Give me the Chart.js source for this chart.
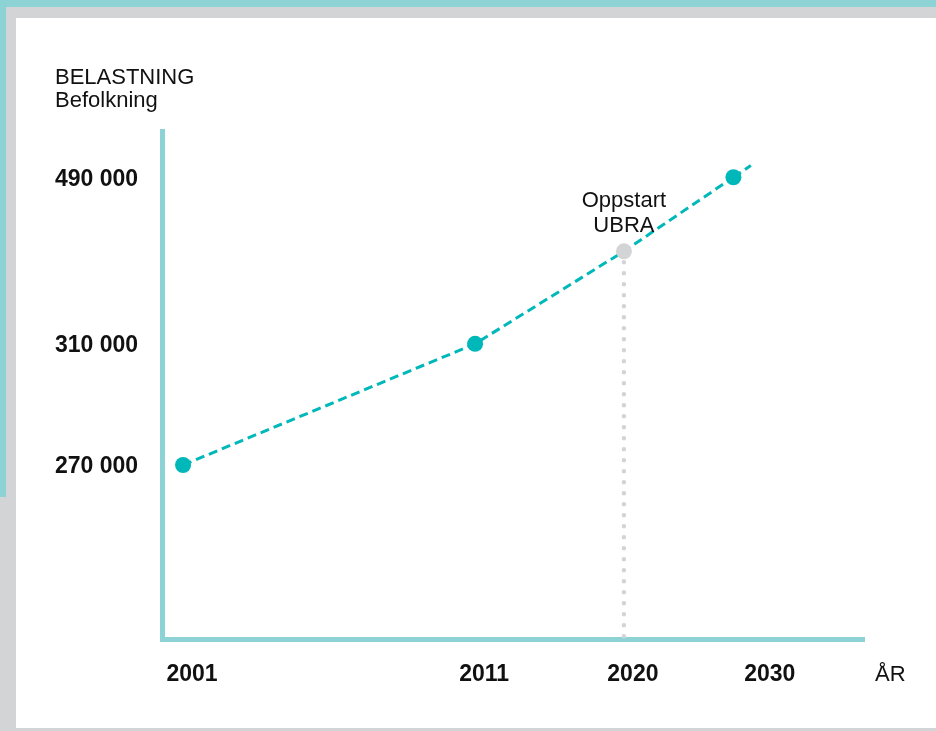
<!DOCTYPE html>
<html>
<head>
<meta charset="utf-8">
<script src="https://cdn.jsdelivr.net/npm/chart.js@4/dist/chart.umd.min.js"></script>
<style>
    html, body { margin: 0; padding: 0; }
    body { width: 936px; height: 731px; position: relative; overflow: hidden; background: #d3d4d6; }
    .band-top { position: absolute; left: 0; top: 0; width: 936px; height: 7px; background: #8dd3d5; }
    .band-left { position: absolute; left: 0; top: 0; width: 6px; height: 497px; background: #8dd3d5; }
    .card { position: absolute; left: 16px; top: 18px; width: 920px; height: 710px; background: #fff; }
    #wrap { position: absolute; left: 0; top: 0; width: 936px; height: 731px; }
</style>
</head>
<body>
<div class="band-top"></div>
<div class="band-left"></div>
<div class="card"></div>
<div id="wrap"><canvas id="chart"></canvas></div>
<script>
const years = [2001, 2011, 2020, 2028];
const population = [270000, 310000, 410000, 490000];
const yearTicks = [2001, 2011, 2020, 2030];
const popTicks = [270000, 310000, 490000];
const startYear = 2020; // Oppstart UBRA

// the axes in the drawing are not evenly spaced, so each one gets a bent mapping
// [value, share of the axis length]
const xWarp = [[2000, 0], [2001, 0.03], [2011, 0.446], [2020, 0.658], [2030, 0.853], [2038, 1]];
const yWarp = [[200000, 0], [270000, 0.3425], [310000, 0.581], [490000, 0.909], [540000, 1]];

const fontFamily = "'Liberation Sans', Arial, sans-serif";
const lineColor = '#00b8ba';
const axisColor = '#8dd3d5';
const greyDot = '#d3d4d6';

Chart.defaults.font.family = fontFamily;
Chart.defaults.color = '#111';

class WarpScale extends Chart.LinearScale {
    stops() {
        return this.axis === 'x' ? xWarp : yWarp;
    }
    getPixelForValue(value) {
        if (value === null || value === undefined) return NaN;
        const s = this.stops();
        let i = 1;
        while (i < s.length - 1 && value > s[i][0]) i++;
        const [v0, f0] = s[i - 1], [v1, f1] = s[i];
        return this.getPixelForDecimal(f0 + (value - v0) / (v1 - v0) * (f1 - f0));
    }
    getValueForPixel(pixel) {
        const d = this.getDecimalForPixel(pixel);
        const s = this.stops();
        let i = 1;
        while (i < s.length - 1 && d > s[i][1]) i++;
        const [v0, f0] = s[i - 1], [v1, f1] = s[i];
        return v0 + (d - f0) / (f1 - f0) * (v1 - v0);
    }
}
WarpScale.id = 'warp';
WarpScale.defaults = Chart.LinearScale.defaults;
Chart.register(WarpScale);

const pointColors = years.map(y => y === startYear ? greyDot : lineColor);

const extras = {
    id: 'extras',
    beforeDatasetsDraw(chart) {
        // the dashed line runs on a little past the last point
        const pts = chart.getDatasetMeta(0).data;
        const a = pts[pts.length - 2], b = pts[pts.length - 1];
        const dx = b.x - a.x, dy = b.y - a.y, len = Math.hypot(dx, dy);
        const ctx = chart.ctx;
        ctx.save();
        ctx.strokeStyle = lineColor;
        ctx.lineWidth = 3;
        ctx.setLineDash([9, 5]);
        ctx.beginPath();
        ctx.moveTo(b.x, b.y);
        ctx.lineTo(b.x + dx / len * 21, b.y + dy / len * 21);
        ctx.stroke();
        ctx.restore();
    },
    afterDraw(chart) {
        const ctx = chart.ctx;
        const p = chart.getDatasetMeta(0).data[years.indexOf(startYear)];
        ctx.save();
        ctx.fillStyle = '#111';
        ctx.font = '22px ' + fontFamily;
        ctx.textAlign = 'center';
        ctx.textBaseline = 'alphabetic';
        ctx.fillText('Oppstart', p.x, p.y - 44);
        ctx.fillText('UBRA', p.x, p.y - 19);
        ctx.textAlign = 'left';
        ctx.textBaseline = 'middle';
        ctx.fillText('ÅR', chart.chartArea.right + 11, chart.scales.x.top + 36);
        ctx.restore();
    }
};

const ctx = document.getElementById('chart').getContext('2d');

const config = {
    type: 'line',
    data: {
        datasets: [{
            label: 'Befolkning',
            data: years.map((y, i) => ({ x: y, y: population[i] })),
            borderColor: lineColor,
            borderWidth: 3,
            borderDash: [9, 5],
            tension: 0,
            pointRadius: 8,
            pointBorderWidth: 0,
            pointBackgroundColor: pointColors,
            backgroundColor: pointColors,
            order: 1,
        }, {
            label: 'Oppstart UBRA',
            data: [
                { x: startYear, y: population[years.indexOf(startYear)] },
                { x: startYear, y: 200000 },
            ],
            borderColor: greyDot,
            borderWidth: 4.5,
            borderDash: [0, 11],
            borderCapStyle: 'round',
            pointRadius: 0,
            order: 2,
        }],
    },
    options: {
        responsive: true,
        maintainAspectRatio: false,
        animation: false,
        layout: {
            padding: { left: 55, right: 72, top: 66, bottom: 42 }
        },
        scales: {
            x: {
                type: 'warp',
                min: 2000,
                max: 2038,
                afterBuildTicks: s => { s.ticks = yearTicks.map(v => ({ value: v })); },
                afterFit: s => { s.height = 50; },
                grid: { display: false, drawTicks: false },
                border: { display: true, color: axisColor, width: 5 },
                ticks: {
                    padding: 22,
                    labelOffset: 9,
                    maxRotation: 0,
                    autoSkip: false,
                    color: '#111',
                    font: { size: 23, weight: 'bold' },
                    callback: v => String(v),
                },
            },
            y: {
                type: 'warp',
                min: 200000,
                max: 540000,
                afterBuildTicks: s => { s.ticks = popTicks.map(v => ({ value: v })); },
                afterFit: s => { s.width = 107; },
                grid: { display: false, drawTicks: false },
                border: { display: true, color: axisColor, width: 5 },
                ticks: {
                    crossAlign: 'far',
                    labelOffset: 2,
                    autoSkip: false,
                    color: '#111',
                    font: { size: 23, weight: 'bold' },
                    callback: v => String(v).replace(/\B(?=(\d{3})+(?!\d))/g, ' '),
                },
            },
        },
        plugins: {
            legend: { display: false },
            tooltip: { enabled: false },
            title: {
                display: true,
                text: ['BELASTNING', 'Befolkning'],
                align: 'start',
                color: '#111',
                font: { size: 22, weight: 'normal', lineHeight: '23px' },
                padding: { top: 0, bottom: 19 },
            },
        },
    },
    plugins: [extras],
};

const newChart = new Chart(ctx, config);
</script>
</body>
</html>
